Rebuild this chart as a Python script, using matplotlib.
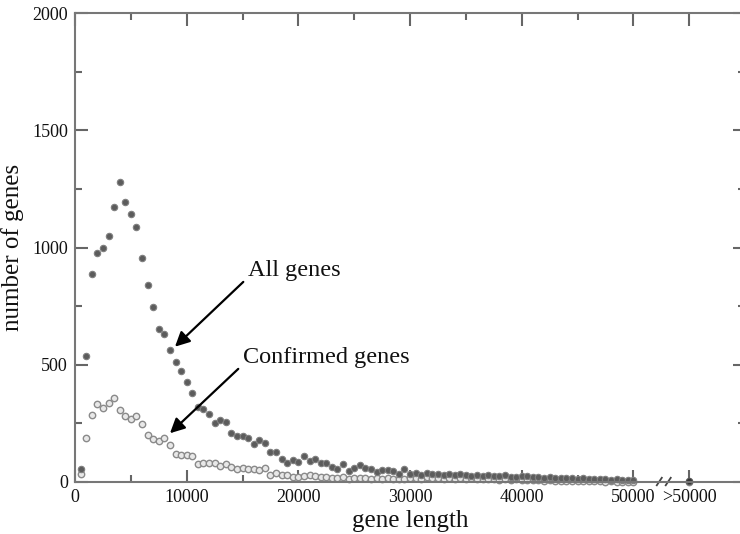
import numpy as np
import matplotlib
matplotlib.use("Agg")
import matplotlib.pyplot as plt
from matplotlib.ticker import MultipleLocator, FixedLocator

plt.rcParams['font.family'] = ['Liberation Serif', 'DejaVu Serif']

# gene length bins (bin step 500), last point is the ">50000" bin
lengths = np.arange(500, 50001, 500)
over_x = 55000

all_genes = [55, 539, 888, 975, 997, 1047, 1174, 1281, 1195, 1141,
             1089, 955, 842, 747, 651, 633, 564, 513, 473, 428,
             380, 321, 312, 292, 253, 264, 256, 208, 196, 196,
             189, 161, 178, 168, 126, 126, 100, 79, 94, 86,
             109, 90, 100, 81, 83, 62, 55, 76, 48, 58,
             72, 58, 55, 41, 52, 52, 48, 34, 55, 34,
             38, 30, 38, 33, 36, 30, 34, 28, 32, 30,
             27, 31, 26, 29, 24, 27, 30, 22, 20, 24,
             26, 20, 23, 18, 21, 17, 19, 15, 18, 14,
             16, 12, 14, 11, 13, 10, 12, 9, 8, 10]
confirmed = [33, 188, 284, 333, 316, 338, 357, 305, 280, 267,
             280, 249, 199, 182, 175, 189, 157, 121, 117, 115,
             113, 76, 83, 83, 79, 69, 76, 62, 55, 58,
             55, 55, 52, 58, 28, 38, 31, 28, 20, 20,
             24, 28, 25, 22, 20, 18, 16, 20, 14, 17,
             15, 18, 13, 15, 12, 16, 13, 14, 11, 15,
             18, 14, 20, 16, 18, 14, 17, 13, 15, 12,
             16, 14, 11, 13, 12, 10, 13, 9, 11, 8,
             9, 7, 8, 6, 7, 5, 6, 5, 4, 4,
             5, 3, 4, 3, 2, 3, 2, 2, 2, 1]
all_over = 5
confirmed_over = 2

xtick_pos = [0, 10000, 20000, 30000, 40000, 50000, 55000]
xtick_labels = ['0', '10000', '20000', '30000', '40000', '50000', '>50000']

fig = plt.figure(figsize=(7.4, 5.34), dpi=100)
ax = fig.add_axes([75 / 740, 52 / 534, 670 / 740, 469 / 534])

ax.plot(lengths, confirmed, 'o', ms=4.6, mfc='#e8e8e8', mec='#8a8a8a', mew=1.0, clip_on=False)
ax.plot([over_x], [confirmed_over], 'o', ms=4.6, mfc='#e8e8e8', mec='#8a8a8a', mew=1.0, clip_on=False)
ax.plot(lengths, all_genes, 'o', ms=4.6, mfc='#5c5c5c', mec='#808080', mew=0.8, clip_on=False)
ax.plot([over_x], [all_over], 'o', ms=4.6, mfc='#333333', mec='#555555', mew=0.8, clip_on=False)

ax.set_xlim(0, 60000)
ax.set_ylim(0, 2000)

ax.xaxis.set_major_locator(FixedLocator(xtick_pos))
ax.set_xticklabels(xtick_labels)
ax.xaxis.set_minor_locator(FixedLocator(list(range(5000, 50000, 10000))))
ax.yaxis.set_major_locator(MultipleLocator(500))
ax.yaxis.set_minor_locator(MultipleLocator(250))

ax.tick_params(which='both', direction='in', top=True, right=True,
               color='#666666', width=1.5, labelsize=13, labelcolor='#111111', pad=5)
ax.tick_params(which='major', length=9)
ax.tick_params(which='minor', length=5)
for s in ax.spines.values():
    s.set_color('#777777')
    s.set_linewidth(1.5)

# axis break marks
tr = ax.get_xaxis_transform()
for bx in [52100, 52900]:
    ax.plot([bx, bx + 450], [-0.007, 0.009], color='#444444', lw=1.3,
            transform=tr, clip_on=False)

ax.set_xlabel('gene length', fontsize=18, color='#111111', labelpad=3)
ax.set_ylabel('number of genes', fontsize=18, color='#111111', labelpad=6)

arrow = dict(arrowstyle='-|>', color='black', lw=1.6, mutation_scale=22,
             shrinkA=2, shrinkB=0, relpos=(0, 0.15))
ax.annotate('All genes', xy=(8955, 577), xytext=(15500, 904),
            fontsize=17.5, color='#111111', va='center', ha='left',
            arrowprops=arrow)
ax.annotate('Confirmed genes', xy=(8507, 208), xytext=(15050, 533),
            fontsize=17.5, color='#111111', va='center', ha='left',
            arrowprops=arrow)

fig.savefig('out.png', dpi=100)
